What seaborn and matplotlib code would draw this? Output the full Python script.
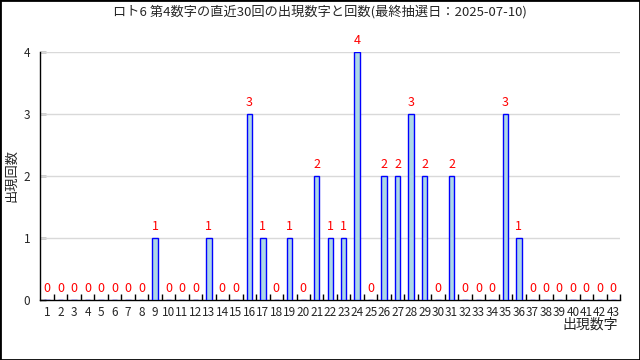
import matplotlib
matplotlib.use("Agg")
import matplotlib.pyplot as plt
import seaborn as sns
import numpy as np
import pandas as pd

numbers = list(range(1, 44))
counts = [0, 0, 0, 0, 0, 0, 0, 0, 1, 0,
          0, 0, 1, 0, 0, 3, 1, 0, 1, 0,
          2, 1, 1, 4, 0, 2, 2, 3, 2, 0,
          2, 0, 0, 0, 3, 1, 0, 0, 0, 0,
          0, 0, 0]
title = "ロト6 第4数字の直近30回の出現数字と回数(最終抽選日：2025-07-10)"
xlabel = "出現数字"
ylabel = "出現回数"

sns.set_theme(style="white")
plt.rcParams['font.family'] = ['Noto Sans CJK JP', 'DejaVu Sans']

df = pd.DataFrame({"num": numbers, "cnt": counts})

fig = plt.figure(figsize=(6.4, 3.6), dpi=100)
ax = fig.add_axes([40/640, 1-300/360, 580/640, 248/360])

sns.barplot(data=df, x="num", y="cnt", native_scale=True, width=0.4,
            color="#add8e6", edgecolor="blue", linewidth=1, saturation=1,
            ax=ax, zorder=3)

ax.set_xlim(0.47, 43.5)
ax.set_ylim(0, 4)
ax.set_yticks([0, 1, 2, 3, 4])
ax.set_yticklabels(["0", "1", "2", "3", "4"], fontsize=8.5)
for y in [1, 2, 3, 4]:
    ax.axhline(y, color="#d9d9d9", lw=1, zorder=1)

ax.set_xticks(numbers)
ax.set_xticklabels([str(n) for n in numbers], fontsize=8.5)
ax.set_xticks(np.arange(1.5, 44, 1.0), minor=True)
ax.tick_params(axis="x", which="major", bottom=False, length=0, pad=4)
ax.tick_params(axis="x", which="minor", bottom=True, direction="in", length=4, color="black", width=1)
ax.tick_params(axis="y", which="major", left=True, direction="in", length=4, color="black", width=1, pad=7)

for s in ["top", "right"]:
    ax.spines[s].set_visible(False)
for s in ["left", "bottom"]:
    ax.spines[s].set_color("black")
    ax.spines[s].set_linewidth(1)

for n, c in zip(numbers, counts):
    ax.annotate(str(c), (n, c), xytext=(0, 3.5), textcoords="offset points",
                ha="center", va="bottom", color="red", fontsize=9, clip_on=False, zorder=5)

ax.set_xlabel("")
ax.set_ylabel(ylabel, fontsize=9.5, labelpad=4)
fig.text(618/640, 1-325/360, xlabel, ha="right", va="center", fontsize=10)
fig.text(0.5, 1-12/360, title, ha="center", va="center", fontsize=9.5)

fig.patches.append(plt.Rectangle((0, 0), 1, 1, transform=fig.transFigure,
                                 fill=False, edgecolor="black", lw=2))

fig.savefig("out.png", dpi=100)
